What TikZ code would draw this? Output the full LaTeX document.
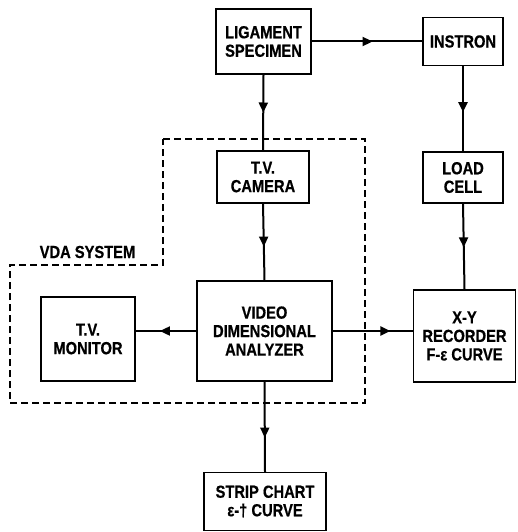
\documentclass[tikz,border=0pt]{standalone}
\usepackage{fontspec}
\newfontfamily\lbl[FakeStretch=0.84,BoldFeatures={FakeBold=0.6}]{Liberation Sans}
\usetikzlibrary{arrows.meta,decorations.markings}
\begin{document}
\begin{tikzpicture}[x=1pt,y=-1pt,
  blk/.style={draw,line width=1.2pt,inner sep=0pt,align=center,
    font=\lbl\bfseries\fontsize{17.5}{18.5}\selectfont},
  conn/.style={line width=2pt},
  midarrow/.style={postaction={decorate},decoration={markings,
    mark=at position #1 with {\arrow{Triangle[length=10pt,width=9pt]}}}},
  vdabox/.style={line width=1.5pt,dash pattern=on 7pt off 4pt}]
\useasboundingbox (0,0) rectangle (517,532);
\node[blk,minimum width=95pt,minimum height=65pt] (lig) at (263.5,41.5) {LIGAMENT\\SPECIMEN};
\node[blk,minimum width=80pt,minimum height=48pt] (ins) at (463,41.5) {INSTRON};
\node[blk,minimum width=92pt,minimum height=52pt] (cam) at (263,177) {T.V.\\CAMERA};
\node[blk,minimum width=80pt,minimum height=51pt] (load) at (463,177.5) {LOAD\\CELL};
\node[blk,minimum width=135pt,minimum height=100pt] (vda) at (264.5,331) {VIDEO\\DIMENSIONAL\\ANALYZER};
\node[blk,minimum width=94pt,minimum height=84pt] (mon) at (88,339) {T.V.\\MONITOR};
\node[blk,minimum width=102pt,minimum height=92pt] (xy) at (464.5,336) {X-Y\\RECORDER\\F-ε CURVE};
\node[blk,minimum width=122pt,minimum height=58pt] (strip) at (265,501.5) {STRIP CHART\\ε-† CURVE};
\node[font=\lbl\bfseries\fontsize{17.5}{18.5}\selectfont,inner sep=0pt] (vdalabel) at (87.5,252) {VDA SYSTEM};
\coordinate (d1) at (163,139);
\coordinate (d2) at (365,139);
\coordinate (d3) at (365,403);
\coordinate (d4) at (10,403);
\coordinate (d5) at (10,265);
\coordinate (d6) at (163,265);
\draw[vdabox] (d1) -- (d2) -- (d3) -- (d4) -- (d5) -- (d6) -- cycle;
\draw[conn,midarrow=0.55] (lig.east |- ins.west) -- (ins.west);
\draw[conn,midarrow=0.5] (lig.south) -- (cam.north);
\draw[conn,midarrow=0.54] (ins.south) -- (load.north);
\draw[conn,midarrow=0.56] (cam.south) -- (vda.north);
\draw[conn,midarrow=0.51] (load.south) -- (xy.north);
\draw[conn,midarrow=0.6] (vda.west) -- (vda.west -| mon.east);
\draw[conn,midarrow=0.72] (vda.east) -- (vda.east -| xy.west);
\draw[conn,midarrow=0.62] (vda.south) -- (strip.north);
\end{tikzpicture}
\end{document}
